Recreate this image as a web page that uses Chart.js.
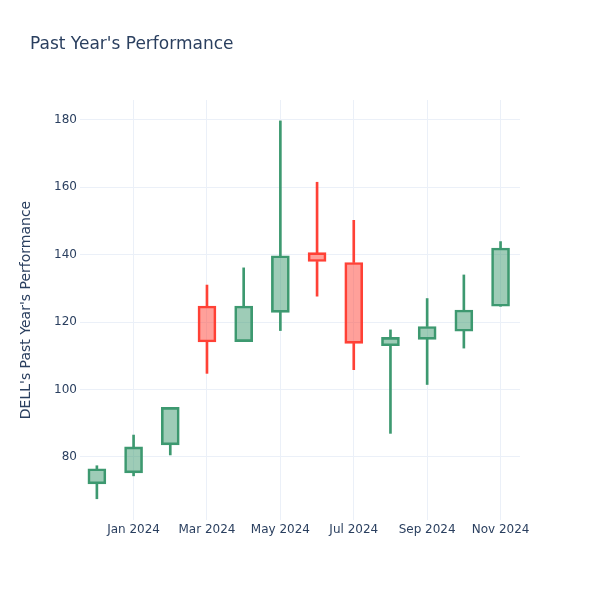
<!DOCTYPE html>
<html>
<head>
<meta charset="utf-8">
<script src="https://cdn.jsdelivr.net/npm/chart.js@4"></script>
<style>
    html, body { margin: 0; padding: 0; background: #fff; }
    #wrap { position: relative; width: 600px; height: 600px; }
    #title {
        position: absolute; left: 30px; top: 33px;
        font-family: "DejaVu Sans", sans-serif; font-size: 17px; color: #2a3f5f;
    }
</style>
</head>
<body>
<div id="wrap">
    <div id="title">Past Year's Performance</div>
    <canvas id="ohlcChart" width="600" height="600"></canvas>
</div>
<script>
// Monthly OHLC for DELL, Dec 2023 - Nov 2024
const months = ['Dec 2023', 'Jan 2024', 'Feb 2024', 'Mar 2024', 'Apr 2024', 'May 2024',
    'Jun 2024', 'Jul 2024', 'Aug 2024', 'Sep 2024', 'Oct 2024', 'Nov 2024'];
const opens  = [72.0, 75.3, 83.6, 124.8, 114.2, 122.9, 140.6, 137.7, 113.0, 114.9, 117.3, 124.7];
const highs  = [77.4, 86.5, 94.7, 131.0, 136.1, 179.7, 161.5, 150.2, 117.7, 127.0, 134.0, 143.9];
const lows   = [67.6, 74.4, 80.6, 104.8, 114.2, 117.5, 127.7, 105.9, 87.0, 101.5, 112.3, 124.7];
const closes = [76.5, 83.0, 94.7, 114.1, 124.8, 139.7, 138.0, 113.7, 115.5, 118.7, 123.6, 142.0];
const xTickIdx = [1, 3, 5, 7, 9, 11];
const yTicks = [80, 100, 120, 140, 160, 180];

const UP = '#3D9970', DOWN = '#FF4136';
const UP_FILL = 'rgba(61,153,112,0.5)', DOWN_FILL = 'rgba(255,65,54,0.5)';
const FONT = '"DejaVu Sans", sans-serif';
const INK = '#2a3f5f';
const GRID = '#ebf0f8';

const isUp = months.map((m, i) => closes[i] >= opens[i]);
const lineCol = isUp.map(u => u ? UP : DOWN);
const fillCol = isUp.map(u => u ? UP_FILL : DOWN_FILL);

const bodies = months.map((m, i) => ({ x: i, y: [opens[i], closes[i]] }));
const upperWicks = months.map((m, i) => ({ x: i, y: [Math.max(opens[i], closes[i]), highs[i]] }));
const lowerWicks = months.map((m, i) => ({ x: i, y: [lows[i], Math.min(opens[i], closes[i])] }));

new Chart(document.getElementById('ohlcChart'), {
    type: 'bar',
    data: {
        datasets: [
            {
                data: bodies,
                backgroundColor: fillCol,
                borderColor: lineCol,
                borderWidth: 2,
                borderSkipped: false,
                barThickness: 18,
                grouped: false
            },
            {
                data: upperWicks,
                backgroundColor: lineCol,
                borderWidth: 0,
                barThickness: 2,
                grouped: false
            },
            {
                data: lowerWicks,
                backgroundColor: lineCol,
                borderWidth: 0,
                barThickness: 2,
                grouped: false
            }
        ]
    },
    options: {
        responsive: false,
        animation: false,
        layout: { padding: { top: 100, right: 80, left: 0, bottom: 0 } },
        plugins: { legend: { display: false }, tooltip: { enabled: false } },
        scales: {
            x: {
                type: 'linear',
                min: -0.46,
                max: 11.53,
                offset: false,
                afterFit: s => { s.height = 80; },
                afterBuildTicks: s => { s.ticks = xTickIdx.map(v => ({ value: v })); },
                grid: { color: GRID, drawTicks: false, offset: false },
                border: { display: false },
                ticks: {
                    color: INK,
                    font: { family: FONT, size: 12 },
                    padding: 3,
                    maxRotation: 0,
                    autoSkip: false,
                    callback: v => months[v]
                }
            },
            y: {
                min: 61.3,
                max: 185.9,
                afterFit: s => { s.width = 80; },
                afterBuildTicks: s => { s.ticks = yTicks.map(v => ({ value: v })); },
                grid: { color: GRID, drawTicks: false },
                border: { display: false },
                ticks: {
                    color: INK,
                    font: { family: FONT, size: 12 },
                    padding: 3
                },
                title: {
                    display: true,
                    text: "DELL's Past Year's Performance",
                    color: INK,
                    font: { family: FONT, size: 14 },
                    padding: { top: 18, bottom: 0 }
                }
            }
        }
    }
});
</script>
</body>
</html>
